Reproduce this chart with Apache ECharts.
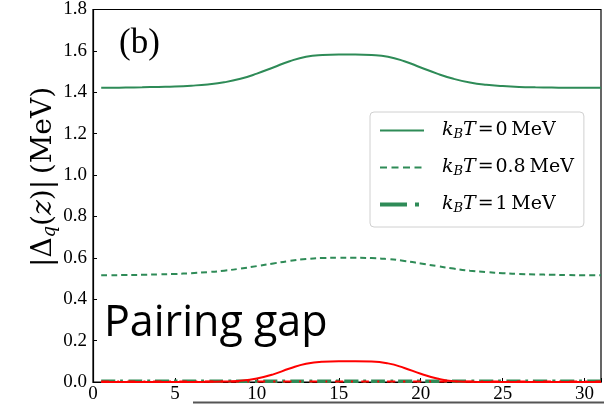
<!DOCTYPE html>
<html>
<head>
<meta charset="utf-8">
<script src="https://cdn.jsdelivr.net/npm/echarts@6/dist/echarts.min.js"></script>
<style>
  html, body { margin: 0; padding: 0; background: #fff; }
  #chart { width: 604px; height: 404px; }
</style>
</head>
<body>
<div id="chart"></div>
<script>
// Position along z (fm)
const zValues = [0.5, 1, 2, 3, 4, 5, 6, 7, 8, 9, 10, 11, 12, 13, 14, 15, 16, 17, 18, 19, 20, 21, 22, 23, 24, 25, 26, 27, 28, 29, 30, 31];

// Pairing gap |Δq(z)| in MeV at each temperature
const gapT0 = [1.422, 1.422, 1.423, 1.424, 1.426, 1.428, 1.432, 1.438, 1.448, 1.465, 1.490, 1.520, 1.550, 1.572, 1.580, 1.582, 1.582, 1.580, 1.572, 1.550, 1.520, 1.490, 1.465, 1.447, 1.436, 1.430, 1.426, 1.424, 1.423, 1.422, 1.422, 1.422];
const gapT08 = [0.516, 0.516, 0.517, 0.518, 0.520, 0.522, 0.526, 0.531, 0.538, 0.548, 0.560, 0.573, 0.585, 0.594, 0.599, 0.600, 0.600, 0.599, 0.594, 0.585, 0.573, 0.560, 0.548, 0.538, 0.531, 0.526, 0.522, 0.520, 0.518, 0.517, 0.516, 0.516];
const gapT1 = [0.004, 0.004, 0.004, 0.004, 0.004, 0.004, 0.004, 0.004, 0.004, 0.004, 0.004, 0.004, 0.004, 0.004, 0.004, 0.004, 0.004, 0.004, 0.004, 0.004, 0.004, 0.004, 0.004, 0.004, 0.004, 0.004, 0.004, 0.004, 0.004, 0.004, 0.004, 0.004];

// Second pairing curve (red) and its high-temperature counterpart
const gapRed = [0.000, 0.000, 0.000, 0.000, 0.000, 0.000, 0.000, 0.001, 0.002, 0.006, 0.017, 0.037, 0.065, 0.088, 0.098, 0.100, 0.100, 0.099, 0.090, 0.068, 0.040, 0.017, 0.004, 0.001, 0.000, 0.000, 0.000, 0.000, 0.000, 0.000, 0.000, 0.000];
const gapRedHot = [0.002, 0.002, 0.002, 0.002, 0.002, 0.002, 0.002, 0.002, 0.002, 0.002, 0.002, 0.002, 0.002, 0.002, 0.002, 0.002, 0.002, 0.002, 0.002, 0.002, 0.002, 0.002, 0.002, 0.002, 0.002, 0.002, 0.002, 0.002, 0.002, 0.002, 0.002, 0.002];

// Axis ticks
const xTicks = [0, 5, 10, 15, 20, 25, 30];
const yTicks = ['0.0', '0.2', '0.4', '0.6', '0.8', '1.0', '1.2', '1.4', '1.6', '1.8'];

// Legend entries: series names and temperature text
const legendNames = ['kT0', 'kT08', 'kT1'];
const legendTemps = ['0', '0.8', '1'];

const pairs = vals => zValues.map((z, i) => [z, vals[i]]);

const green = '#2e8b57';
const red = '#ff0000';
const serif = '"Liberation Serif", "DejaVu Serif", serif';
const mathSerif = '"DejaVu Serif", "Liberation Serif", serif';

const chart = echarts.init(document.getElementById('chart'), null, { renderer: 'canvas' });

chart.setOption({
  animation: false,
  backgroundColor: '#fff',
  grid: { left: 93, right: 1.5, top: 1.5, bottom: 21, show: true, borderColor: '#000', borderWidth: 1.2, containLabel: false },
  xAxis: {
    type: 'value', min: 0, max: 31, interval: 5,
    axisLine: { show: true, lineStyle: { color: '#000', width: 1.2 } },
    axisTick: { show: true, inside: true, length: 4, lineStyle: { color: '#000' } },
    splitLine: { show: false },
    axisLabel: {
      color: '#000', fontFamily: serif, fontSize: 19, margin: 3,
      formatter: v => (xTicks.indexOf(v) >= 0 ? String(v) : '')
    }
  },
  yAxis: {
    type: 'value', min: 0, max: 1.8, interval: 0.2,
    axisLine: { show: true, lineStyle: { color: '#000', width: 1.2 } },
    axisTick: { show: true, inside: true, length: 4, lineStyle: { color: '#000' } },
    splitLine: { show: false },
    axisLabel: {
      color: '#000', fontFamily: serif, fontSize: 19, margin: 6,
      formatter: v => yTicks[Math.round(v / 0.2)]
    }
  },
  legend: {
    orient: 'vertical',
    left: 370, top: 112,
    data: [
      { name: legendNames[0] },
      { name: legendNames[1], lineStyle: { width: 2, type: [7, 4.5] } },
      { name: legendNames[2], lineStyle: { width: 4, type: [27, 8, 4, 10] } }
    ],
    backgroundColor: '#fff',
    borderColor: '#d0d0d0', borderWidth: 1, borderRadius: 4,
    padding: [9, 10, 12, 8],
    itemWidth: 44, itemHeight: 12, itemGap: 17,
    itemStyle: { opacity: 0 },
    formatter: name => {
      const t = legendTemps[legendNames.indexOf(name)];
      return '{it|k}{sub|B}{it|T}{rm|\u200a=\u200a' + t + '\u2009MeV}';
    },
    textStyle: {
      color: '#000', fontFamily: mathSerif, fontSize: 19, padding: [0, 0, 0, 13],
      rich: {
        it: { fontFamily: mathSerif, fontStyle: 'italic', fontSize: 19, color: '#000' },
        sub: { fontFamily: mathSerif, fontStyle: 'italic', fontSize: 13, color: '#000', padding: [8, 0, 0, 0] },
        rm: { fontFamily: mathSerif, fontSize: 19, color: '#000' }
      }
    }
  },
  series: [
    {
      name: 'kT0', type: 'line', smooth: true, symbol: 'none', data: pairs(gapT0),
      lineStyle: { color: green, width: 2, type: 'solid' }, itemStyle: { color: green }, z: 3
    },
    {
      name: 'kT08', type: 'line', smooth: true, symbol: 'none', data: pairs(gapT08),
      lineStyle: { color: green, width: 2, type: [6, 4] }, itemStyle: { color: green }, z: 3
    },
    {
      name: 'kT1', type: 'line', smooth: true, symbol: 'none', data: pairs(gapT1),
      lineStyle: { color: green, width: 3.5, type: [14, 5, 3, 5] }, itemStyle: { color: green }, z: 3
    },
    {
      name: 'redGap', type: 'line', smooth: true, symbol: 'none', data: pairs(gapRed),
      lineStyle: { color: red, width: 2, type: 'solid' }, itemStyle: { color: red }, z: 4
    },
    {
      name: 'redGapHot', type: 'line', smooth: true, symbol: 'none', data: pairs(gapRedHot),
      lineStyle: { color: red, width: 2, type: [8, 8, 2, 8] }, itemStyle: { color: red }, z: 4
    }
  ],
  graphic: [
    {
      type: 'text', left: 119, top: 26,
      style: { text: '(b)', font: '35px ' + serif, fill: '#000' }
    },
    {
      type: 'text', left: 104, top: 302,
      style: { text: 'Pairing gap', font: '43px "Open Sans", "Noto Sans", sans-serif', fill: '#000' }
    },
    {
      type: 'text', x: 44, y: 177, rotation: Math.PI / 2,
      style: {
        text: '{rm||\u0394}{sub|q}{rm|(}{it|z}{rm|)|\u2009(MeV)}',
        align: 'center', verticalAlign: 'middle',
        rich: {
          rm: { fontFamily: mathSerif, fontSize: 28, color: '#000' },
          it: { fontFamily: mathSerif, fontStyle: 'italic', fontSize: 28, color: '#000' },
          sub: { fontFamily: mathSerif, fontStyle: 'italic', fontSize: 18, color: '#000', padding: [12, 0, 0, 0] }
        }
      }
    },
    {
      type: 'line', shape: { x1: 193, y1: 402.5, x2: 604, y2: 402.5 },
      style: { stroke: '#555', lineWidth: 2 }
    }
  ]
});
</script>
</body>
</html>
